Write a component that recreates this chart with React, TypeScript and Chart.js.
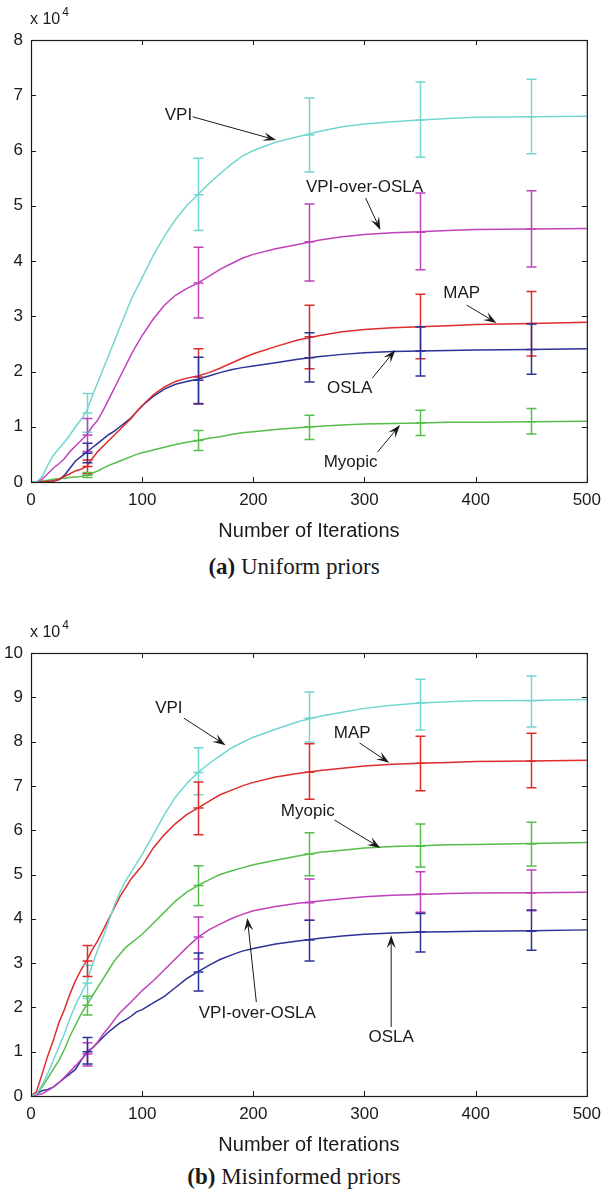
import React, { useEffect, useRef } from "react";
import { Chart, registerables } from "chart.js";
Chart.register(...registerables);

// ---------- data (values in units of 10^4) ----------
const iterations = [0, 5, 10, 15, 20, 25, 30, 35, 40, 45, 50, 55, 60, 65, 70, 75, 80, 85, 90, 95, 100, 110, 120, 130, 140, 150, 160, 170, 180, 190, 200, 220, 240, 260, 280, 300, 325, 350, 375, 400, 450, 500];
const errIterations = [50, 150, 250, 350, 450];
const xTicks = [0, 100, 200, 300, 400, 500];
const seriesNames = ["VPI", "VPI-over-OSLA", "MAP", "OSLA", "Myopic"];

// (a) Uniform priors
const uniVPI = [0, 0, 0.1, 0.3, 0.48, 0.6, 0.72, 0.85, 1.0, 1.13, 1.28, 1.55, 1.8, 2.05, 2.3, 2.55, 2.8, 3.05, 3.3, 3.5, 3.7, 4.1, 4.45, 4.75, 5.0, 5.2, 5.4, 5.58, 5.75, 5.9, 6.0, 6.15, 6.25, 6.35, 6.43, 6.48, 6.52, 6.55, 6.58, 6.6, 6.61, 6.62];
const uniVPIoverOSLA = [0, 0, 0.05, 0.15, 0.25, 0.33, 0.42, 0.55, 0.65, 0.75, 0.85, 1.0, 1.12, 1.3, 1.5, 1.7, 1.9, 2.1, 2.3, 2.48, 2.65, 2.95, 3.2, 3.38, 3.5, 3.6, 3.72, 3.85, 3.95, 4.05, 4.12, 4.22, 4.3, 4.38, 4.44, 4.48, 4.51, 4.53, 4.55, 4.57, 4.58, 4.59];
const uniMAP = [0, 0, 0, 0.01, 0.02, 0.05, 0.1, 0.15, 0.2, 0.23, 0.28, 0.42, 0.55, 0.65, 0.75, 0.85, 0.95, 1.05, 1.15, 1.27, 1.38, 1.58, 1.72, 1.82, 1.88, 1.92, 1.98, 2.06, 2.15, 2.24, 2.32, 2.45, 2.57, 2.65, 2.72, 2.76, 2.79, 2.81, 2.83, 2.85, 2.87, 2.89];
const uniOSLA = [0, 0, 0, 0.01, 0.02, 0.04, 0.12, 0.25, 0.38, 0.46, 0.54, 0.62, 0.7, 0.78, 0.86, 0.92, 1.0, 1.08, 1.16, 1.27, 1.38, 1.55, 1.68, 1.77, 1.82, 1.86, 1.92, 1.98, 2.03, 2.07, 2.1, 2.16, 2.22, 2.27, 2.31, 2.34, 2.36, 2.37, 2.38, 2.39, 2.4, 2.41];
const uniMyopic = [0, 0.01, 0.02, 0.03, 0.05, 0.06, 0.07, 0.08, 0.09, 0.1, 0.12, 0.16, 0.2, 0.25, 0.3, 0.34, 0.38, 0.42, 0.46, 0.5, 0.53, 0.58, 0.63, 0.68, 0.72, 0.75, 0.79, 0.82, 0.86, 0.89, 0.91, 0.95, 0.98, 1.01, 1.03, 1.05, 1.06, 1.07, 1.08, 1.08, 1.09, 1.1];

const uniVPIMid = [1.25, 5.2, 6.28, 6.55, 6.61];
const uniVPILo = [0.9, 4.55, 5.61, 5.88, 5.94];
const uniVPIHi = [1.6, 5.86, 6.95, 7.24, 7.29];
const uniVOMid = [0.85, 3.6, 4.35, 4.52, 4.58];
const uniVOLo = [0.55, 2.97, 3.64, 3.84, 3.89];
const uniVOHi = [1.15, 4.25, 5.03, 5.23, 5.27];
const uniMAPMid = [0.28, 1.9, 2.63, 2.81, 2.87];
const uniMAPLo = [0.15, 1.42, 2.05, 2.23, 2.28];
const uniMAPHi = [0.4, 2.41, 3.2, 3.4, 3.45];
const uniOSLAMid = [0.52, 1.84, 2.25, 2.37, 2.4];
const uniOSLALo = [0.35, 1.41, 1.81, 1.92, 1.95];
const uniOSLAHi = [0.7, 2.26, 2.7, 2.81, 2.86];
const uniMyoMid = [0.12, 0.75, 1.0, 1.07, 1.09];
const uniMyoLo = [0.08, 0.57, 0.77, 0.84, 0.87];
const uniMyoHi = [0.17, 0.93, 1.21, 1.3, 1.33];

const uniYTicks = [0, 1, 2, 3, 4, 5, 6, 7, 8];
const uniLabels = ["VPI", "VPI-over-OSLA", "MAP", "OSLA", "Myopic"];
const uniLabelX = [132.6, 300, 387.5, 286.6, 287.5];
const uniLabelY = [6.64, 5.34, 3.42, 1.7, 0.36];
const uniArrowFromX = [145.5, 301, 392, 307, 311.6];
const uniArrowFromY = [6.61, 5.14, 3.2, 1.88, 0.54];
const uniArrowToX = [220.5, 314.3, 418.75, 327.7, 332];
const uniArrowToY = [6.19, 4.56, 2.88, 2.39, 1.03];

// (b) Misinformed priors
const misVPI = [0, 0.05, 0.25, 0.5, 0.8, 1.1, 1.4, 1.75, 2.05, 2.3, 2.55, 2.95, 3.3, 3.6, 3.95, 4.3, 4.6, 4.85, 5.05, 5.25, 5.45, 5.9, 6.35, 6.75, 7.05, 7.3, 7.5, 7.68, 7.85, 7.98, 8.1, 8.28, 8.45, 8.57, 8.66, 8.75, 8.82, 8.87, 8.9, 8.92, 8.93, 8.95];
const misVPIoverOSLA = [0, 0.02, 0.05, 0.12, 0.2, 0.3, 0.42, 0.55, 0.68, 0.82, 0.95, 1.08, 1.22, 1.4, 1.55, 1.72, 1.88, 2.0, 2.12, 2.25, 2.38, 2.6, 2.85, 3.1, 3.35, 3.58, 3.75, 3.88, 4.0, 4.1, 4.18, 4.28, 4.35, 4.4, 4.45, 4.5, 4.53, 4.55, 4.57, 4.58, 4.59, 4.6];
const misMAP = [0, 0.1, 0.5, 0.9, 1.25, 1.65, 1.95, 2.3, 2.6, 2.85, 3.05, 3.3, 3.5, 3.75, 4.0, 4.25, 4.5, 4.7, 4.9, 5.05, 5.2, 5.6, 5.9, 6.15, 6.35, 6.5, 6.65, 6.8, 6.9, 7.0, 7.08, 7.2, 7.28, 7.35, 7.4, 7.45, 7.49, 7.51, 7.53, 7.55, 7.56, 7.58];
const misOSLA = [0, 0.05, 0.12, 0.15, 0.2, 0.3, 0.4, 0.5, 0.6, 0.8, 1.0, 1.08, 1.2, 1.33, 1.45, 1.55, 1.65, 1.72, 1.8, 1.9, 1.95, 2.1, 2.25, 2.45, 2.65, 2.8, 2.95, 3.08, 3.18, 3.27, 3.33, 3.43, 3.5, 3.56, 3.61, 3.65, 3.68, 3.7, 3.71, 3.72, 3.73, 3.75];
const misMyopic = [0, 0.05, 0.2, 0.4, 0.6, 0.8, 1.05, 1.35, 1.6, 1.85, 2.05, 2.25, 2.45, 2.65, 2.85, 3.05, 3.2, 3.35, 3.45, 3.55, 3.65, 3.9, 4.15, 4.4, 4.6, 4.75, 4.88, 5.0, 5.08, 5.15, 5.22, 5.32, 5.42, 5.5, 5.55, 5.6, 5.63, 5.65, 5.67, 5.68, 5.7, 5.72];

const misVPIMid = [2.55, 7.3, 8.53, 8.87, 8.92];
const misVPILo = [2.2, 6.8, 7.99, 8.26, 8.33];
const misVPIHi = [2.95, 7.86, 9.12, 9.41, 9.48];
const misVOMid = [0.95, 3.59, 4.36, 4.56, 4.58];
const misVOLo = [0.68, 3.09, 3.97, 4.15, 4.18];
const misVOHi = [1.2, 4.04, 4.9, 5.06, 5.1];
const misMAPMid = [3.05, 6.5, 7.31, 7.51, 7.56];
const misMAPLo = [2.7, 5.9, 6.7, 6.89, 6.96];
const misMAPHi = [3.4, 7.09, 7.95, 8.12, 8.19];
const misOSLAMid = [1.0, 2.8, 3.52, 3.7, 3.72];
const misOSLALo = [0.72, 2.37, 3.05, 3.25, 3.29];
const misOSLAHi = [1.32, 3.23, 3.97, 4.12, 4.2];
const misMyoMid = [2.05, 4.75, 5.46, 5.64, 5.69];
const misMyoLo = [1.83, 4.3, 4.97, 5.17, 5.19];
const misMyoHi = [2.25, 5.2, 5.94, 6.14, 6.18];

const misYTicks = [0, 1, 2, 3, 4, 5, 6, 7, 8, 9, 10];
const misLabels = ["VPI", "MAP", "Myopic", "VPI-over-OSLA", "OSLA"];
const misLabelX = [124, 289, 249, 203.6, 324];
const misLabelY = [8.76, 8.19, 6.43, 1.87, 1.33];
const misArrowFromX = [137.5, 295.5, 273, 202.7, 324];
const misArrowFromY = [8.53, 7.97, 6.23, 2.12, 1.56];
const misArrowToX = [175, 322.3, 314.3, 194.6, 324];
const misArrowToY = [7.92, 7.52, 5.6, 4.02, 3.63];

// ---------- styles ----------
const COLORS = ["rgb(115,214,208)", "rgb(192,66,186)", "rgb(222,44,44)", "rgb(44,50,150)", "rgb(86,190,74)"];
const SANS = '"Liberation Sans", Arial, Helvetica, sans-serif';
const INK = "#1a1a1a";

function buildDatasets(values: number[][], mids: number[][], los: number[][], his: number[][]) {
  return values.map((vals, s) => ({
    label: seriesNames[s],
    data: iterations.map((x, i) => ({ x, y: vals[i] })),
    borderColor: COLORS[s],
    backgroundColor: COLORS[s],
    borderWidth: 1.5,
    pointRadius: 0,
    tension: 0,
    fill: false,
    errMid: mids[s],
    errLo: los[s],
    errHi: his[s],
  }));
}

const decorPlugin = {
  id: "decor",
  afterDatasetsDraw(chart: any, _args: any, opts: any) {
    const { ctx, chartArea: a, scales } = chart;
    const xs = scales.x;
    const ys = scales.y;
    ctx.save();
    // error bars
    chart.data.datasets.forEach((ds: any) => {
      ctx.strokeStyle = ds.borderColor;
      ctx.lineWidth = 1.5;
      errIterations.forEach((ex, i) => {
        const px = Math.round(xs.getPixelForValue(ex)) + 0.5;
        const lo = ys.getPixelForValue(ds.errLo[i]);
        const hi = ys.getPixelForValue(ds.errHi[i]);
        const mid = ys.getPixelForValue(ds.errMid[i]);
        ctx.beginPath();
        ctx.moveTo(px, lo);
        ctx.lineTo(px, hi);
        ctx.moveTo(px - 5, lo);
        ctx.lineTo(px + 5, lo);
        ctx.moveTo(px - 5, hi);
        ctx.lineTo(px + 5, hi);
        ctx.moveTo(px - 5, mid);
        ctx.lineTo(px + 5, mid);
        ctx.stroke();
      });
    });
    // frame + inward ticks
    ctx.strokeStyle = INK;
    ctx.lineWidth = 1.2;
    ctx.strokeRect(a.left + 0.5, a.top + 0.5, a.right - a.left, a.bottom - a.top);
    ctx.lineWidth = 1;
    ctx.beginPath();
    xTicks.forEach((t) => {
      const px = Math.round(xs.getPixelForValue(t)) + 0.5;
      ctx.moveTo(px, a.bottom);
      ctx.lineTo(px, a.bottom - 5);
      ctx.moveTo(px, a.top);
      ctx.lineTo(px, a.top + 5);
    });
    opts.yTicks.forEach((t: number) => {
      const py = Math.round(ys.getPixelForValue(t)) + 0.5;
      ctx.moveTo(a.left, py);
      ctx.lineTo(a.left + 5, py);
      ctx.moveTo(a.right, py);
      ctx.lineTo(a.right - 5, py);
    });
    ctx.stroke();
    // exponent label
    ctx.fillStyle = INK;
    ctx.textBaseline = "middle";
    ctx.textAlign = "left";
    ctx.font = `16px ${SANS}`;
    const base = "x 10";
    ctx.fillText(base, a.left - 1, a.top - 20);
    const w = ctx.measureText(base).width;
    ctx.font = `12px ${SANS}`;
    ctx.fillText("4", a.left + w + 1, a.top - 27);
    // annotations
    ctx.font = `17px ${SANS}`;
    ctx.textAlign = "center";
    opts.labels.forEach((lab: string, i: number) => {
      ctx.fillStyle = INK;
      ctx.fillText(lab, xs.getPixelForValue(opts.lx[i]), ys.getPixelForValue(opts.ly[i]));
      const x1 = xs.getPixelForValue(opts.fx[i]);
      const y1 = ys.getPixelForValue(opts.fy[i]);
      const x2 = xs.getPixelForValue(opts.tx[i]);
      const y2 = ys.getPixelForValue(opts.ty[i]);
      const len = Math.hypot(x2 - x1, y2 - y1);
      const dx = (x2 - x1) / len;
      const dy = (y2 - y1) / len;
      const nx = -dy;
      const ny = dx;
      const L = 13;
      const W = 4.5;
      ctx.strokeStyle = INK;
      ctx.lineWidth = 1;
      ctx.beginPath();
      ctx.moveTo(x1, y1);
      ctx.lineTo(x2 - dx * L * 0.6, y2 - dy * L * 0.6);
      ctx.stroke();
      ctx.beginPath();
      ctx.moveTo(x2, y2);
      ctx.lineTo(x2 - dx * L + nx * W, y2 - dy * L + ny * W);
      ctx.lineTo(x2 - dx * L * 0.6, y2 - dy * L * 0.6);
      ctx.lineTo(x2 - dx * L - nx * W, y2 - dy * L - ny * W);
      ctx.closePath();
      ctx.fill();
    });
    ctx.restore();
  },
};

function makeConfig(datasets: any[], yTicks: number[], ann: any) {
  const yMax = yTicks[yTicks.length - 1];
  return {
    type: "line",
    data: { datasets },
    plugins: [decorPlugin],
    options: {
      animation: false,
      responsive: false,
      events: [],
      layout: { padding: { left: 0, right: 18, top: 40, bottom: 0 } },
      plugins: {
        legend: { display: false },
        tooltip: { enabled: false },
        decor: { yTicks, ...ann },
      },
      scales: {
        x: {
          type: "linear",
          min: 0,
          max: 500,
          grid: { display: false, drawTicks: false },
          border: { display: false },
          afterBuildTicks: (s: any) => {
            s.ticks = xTicks.map((v) => ({ value: v }));
          },
          ticks: { color: INK, font: { family: SANS, size: 17 }, padding: 8, maxRotation: 0, autoSkip: false },
          title: {
            display: true,
            text: "Number of Iterations",
            color: INK,
            font: { family: SANS, size: 20 },
            padding: { top: 0, bottom: 5 },
          },
          afterFit: (s: any) => {
            s.height = 66;
          },
        },
        y: {
          min: 0,
          max: yMax,
          grid: { display: false, drawTicks: false },
          border: { display: false },
          afterBuildTicks: (s: any) => {
            s.ticks = yTicks.map((v) => ({ value: v }));
          },
          ticks: { color: INK, font: { family: SANS, size: 17 }, padding: 8, autoSkip: false },
          afterFit: (s: any) => {
            s.width = 31;
          },
        },
      },
    },
  };
}

function ChartBox({ config, top, height }: { config: any; top: number; height: number }) {
  const ref = useRef<HTMLCanvasElement | null>(null);
  useEffect(() => {
    if (!ref.current) return;
    const chart = new Chart(ref.current, config);
    return () => chart.destroy();
  }, [config]);
  return (
    <canvas
      ref={ref}
      width={609}
      height={height}
      style={{ position: "absolute", left: 0, top, width: 609, height }}
    />
  );
}

const uniConfig = makeConfig(
  buildDatasets(
    [uniVPI, uniVPIoverOSLA, uniMAP, uniOSLA, uniMyopic],
    [uniVPIMid, uniVOMid, uniMAPMid, uniOSLAMid, uniMyoMid],
    [uniVPILo, uniVOLo, uniMAPLo, uniOSLALo, uniMyoLo],
    [uniVPIHi, uniVOHi, uniMAPHi, uniOSLAHi, uniMyoHi]
  ),
  uniYTicks,
  { labels: uniLabels, lx: uniLabelX, ly: uniLabelY, fx: uniArrowFromX, fy: uniArrowFromY, tx: uniArrowToX, ty: uniArrowToY }
);

const misConfig = makeConfig(
  buildDatasets(
    [misVPI, misVPIoverOSLA, misMAP, misOSLA, misMyopic],
    [misVPIMid, misVOMid, misMAPMid, misOSLAMid, misMyoMid],
    [misVPILo, misVOLo, misMAPLo, misOSLALo, misMyoLo],
    [misVPIHi, misVOHi, misMAPHi, misOSLAHi, misMyoHi]
  ),
  misYTicks,
  { labels: misLabels, lx: misLabelX, ly: misLabelY, fx: misArrowFromX, fy: misArrowFromY, tx: misArrowToX, ty: misArrowToY }
);

const captionStyle: React.CSSProperties = {
  position: "absolute",
  left: 0,
  width: 588,
  textAlign: "center",
  fontFamily: '"Liberation Serif", "Times New Roman", serif',
  fontSize: 23,
  lineHeight: "30px",
  color: INK,
};

export default function App() {
  return (
    <div style={{ position: "absolute", left: 0, top: 0, width: 609, height: 1194, background: "#fff" }}>
      <ChartBox config={uniConfig} top={0} height={548} />
      <div style={{ ...captionStyle, top: 552 }}>
        <b>(a)</b> Uniform priors
      </div>
      <ChartBox config={misConfig} top={613} height={549} />
      <div style={{ ...captionStyle, top: 1162 }}>
        <b>(b)</b> Misinformed priors
      </div>
    </div>
  );
}
